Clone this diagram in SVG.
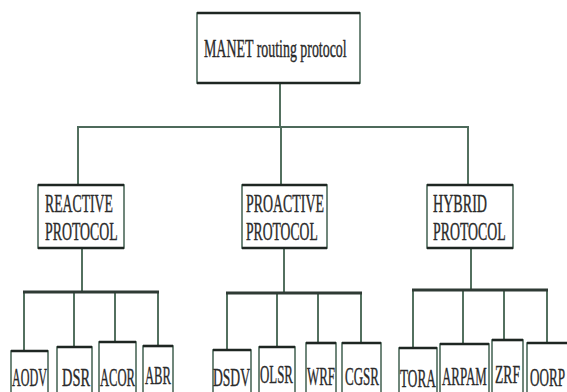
<svg xmlns="http://www.w3.org/2000/svg" width="567" height="392" viewBox="0 0 567 392">
<style>
.box{fill:#fff;stroke:#4d6a5b;stroke-width:1.6}
.edge{stroke:#1e2622;stroke-width:2.6}
.ln{stroke:#53705f;stroke-width:2;fill:none}
.bar{stroke:#2e3a34;stroke-width:3}
text{font-family:"Liberation Serif","Times New Roman",serif;fill:#2a2a2a;stroke:#2a2a2a;stroke-width:0.4;font-size:26px}
</style>
<rect width="567" height="392" fill="#fff"/>
<g id="connectors">
<path class="ln" d="M280,83V127M78,127V185M281,127V185M468,127V185"/>
<line x1="77" y1="127" x2="469" y2="127" style="stroke:#4d6a5b;stroke-width:2.2"/>
<path class="ln" d="M82,248V292M24,292V351M74,292V347M115,292V342M158,292V346"/>
<line class="bar" x1="23" y1="292" x2="159" y2="292"/>
<path class="ln" d="M284,248V293M227,293V350M277,293V347M318,293V343M361,293V343"/>
<line class="bar" x1="226" y1="293" x2="362" y2="293"/>
<path class="ln" d="M471,248V290M413,290V348M463,290V344M504,290V340M547,290V343"/>
<line class="bar" x1="412" y1="290" x2="548" y2="290"/>
</g>
<g id="root">
<rect class="box" x="197" y="13" width="163" height="70"/>
<path class="edge" d="M197,13H360M197,83H360"/>
<text transform="translate(204,57) scale(0.535,1)">MANET routing protocol</text>
</g>
<g id="reactive">
<rect class="box" x="38" y="185" width="86" height="63"/>
<path class="edge" d="M38,185H124M38,248H124"/>
<text transform="translate(45,212) scale(0.529,1)">REACTIVE</text>
<text transform="translate(45,240) scale(0.532,1)">PROTOCOL</text>
</g>
<g id="proactive">
<rect class="box" x="242" y="185" width="85" height="63"/>
<path class="edge" d="M242,185H327M242,248H327"/>
<text transform="translate(246,212) scale(0.535,1)">PROACTIVE</text>
<text transform="translate(246,240) scale(0.525,1)">PROTOCOL</text>
</g>
<g id="hybrid">
<rect class="box" x="427" y="185" width="86" height="63"/>
<path class="edge" d="M427,185H513M427,248H513"/>
<text transform="translate(433,212) scale(0.542,1)">HYBRID</text>
<text transform="translate(433,240) scale(0.532,1)">PROTOCOL</text>
</g>
<g id="aodv"><rect class="box" x="11" y="351" width="37" height="50"/><path class="edge" d="M11,351H48"/><text transform="translate(12,386) scale(0.466,1)">AODV</text></g>
<g id="dsr"><rect class="box" x="57" y="347" width="35" height="54"/><path class="edge" d="M57,347H92"/><text transform="translate(62,386) scale(0.554,1)">DSR</text></g>
<g id="acor"><rect class="box" x="99" y="342" width="37" height="59"/><path class="edge" d="M99,342H136"/><text transform="translate(100,386) scale(0.485,1)">ACOR</text></g>
<g id="abr"><rect class="box" x="143" y="346" width="30" height="55"/><path class="edge" d="M143,346H173"/><text transform="translate(145,384) scale(0.486,1)">ABR</text></g>
<g id="dsdv"><rect class="box" x="213" y="350" width="38" height="51"/><path class="edge" d="M213,350H251"/><text transform="translate(213,386) scale(0.523,1)">DSDV</text></g>
<g id="olsr"><rect class="box" x="259" y="347" width="36" height="54"/><path class="edge" d="M259,347H295"/><text transform="translate(260,383) scale(0.496,1)">OLSR</text></g>
<g id="wrf"><rect class="box" x="306" y="343" width="30" height="58"/><path class="edge" d="M306,343H336"/><text transform="translate(307,385) scale(0.497,1)">WRF</text></g>
<g id="cgsr"><rect class="box" x="342" y="343" width="39" height="58"/><path class="edge" d="M342,343H381"/><text transform="translate(345,385) scale(0.501,1)">CGSR</text></g>
<g id="tora"><rect class="box" x="399" y="348" width="38" height="53"/><path class="edge" d="M399,348H437"/><text transform="translate(400,387) scale(0.509,1)">TORA</text></g>
<g id="arpam"><rect class="box" x="440" y="344" width="49" height="57"/><path class="edge" d="M440,344H489"/><text transform="translate(442,385) scale(0.497,1)">ARPAM</text></g>
<g id="zrf"><rect class="box" x="492" y="340" width="31" height="61"/><path class="edge" d="M492,340H523"/><text transform="translate(495,383) scale(0.524,1)">ZRF</text></g>
<g id="oorp"><rect class="box" x="527" y="343" width="45" height="58"/><path class="edge" d="M527,343H572"/><text transform="translate(530,386) scale(0.505,1)">OORP</text></g>
</svg>
